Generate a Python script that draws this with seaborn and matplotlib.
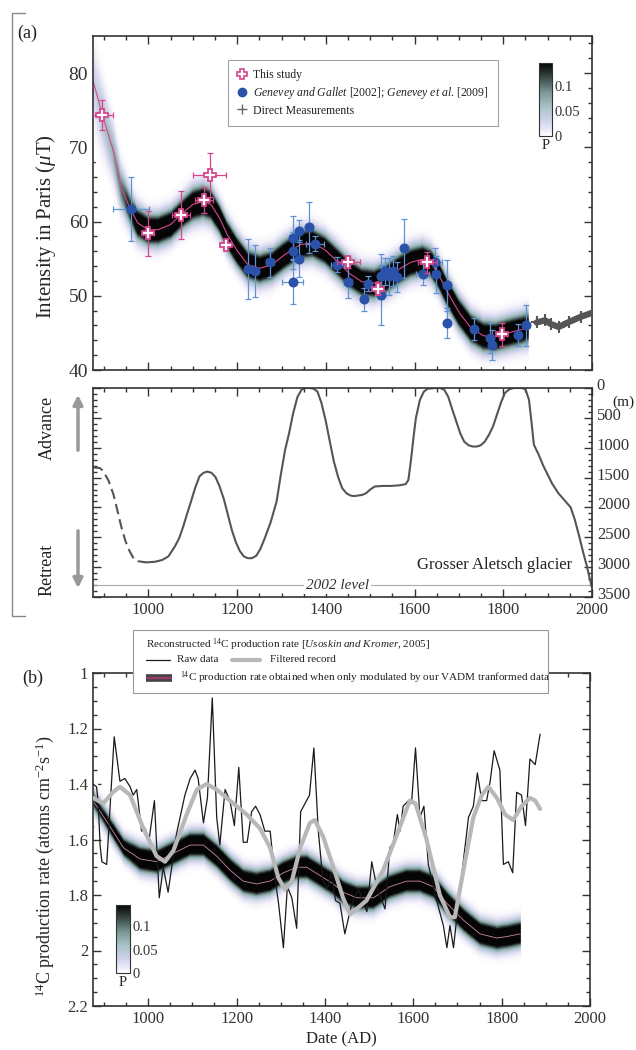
import numpy as np
import matplotlib
matplotlib.use("Agg")
import matplotlib.pyplot as plt
import matplotlib.transforms as mtransforms
import seaborn as sns
from matplotlib.colors import LinearSegmentedColormap, Normalize
from matplotlib.cm import ScalarMappable
from matplotlib.lines import Line2D
from matplotlib.patches import FancyArrowPatch, Rectangle
from matplotlib.ticker import MultipleLocator, FuncFormatter

# ---- panel (a): intensity in Paris ----
study_years = [896, 1000, 1074, 1126, 1138, 1175, 1450, 1517, 1629, 1798]
study_vals = [74.4, 58.4, 60.9, 62.9, 66.3, 56.8, 54.5, 50.9, 54.5, 44.8]
study_xerr = [24, 12, 20, 20, 37, 8, 26, 8, 22, 10]
study_yerr = [2.0, 3.0, 3.2, 1.8, 3.0, 0.5, 0.7, 0.8, 1.4, 1.5]

gen_years = [960, 1224, 1240, 1274, 1325, 1325, 1327, 1339, 1340, 1361, 1375, 1426, 1450,
             1487, 1494, 1525, 1525, 1534, 1543, 1552, 1561, 1577, 1618, 1646, 1648, 1673,
             1672, 1733, 1770, 1774, 1834, 1852]
gen_vals = [61.7, 53.6, 53.3, 54.5, 51.9, 57.8, 56.1, 55.0, 58.7, 59.2, 57.0, 54.2, 51.9,
            49.5, 51.6, 52.6, 50.1, 53.3, 52.6, 53.3, 52.5, 56.4, 52.9, 54.6, 52.9, 51.4,
            46.3, 45.5, 44.3, 43.4, 44.7, 46.0]
gen_xerr = [41, 6, 6, 10, 23, 6, 6, 6, 6, 6, 20, 15, 8, 6, 6, 6, 6, 6, 6, 6, 6, 6, 15,
            15, 8, 8, 5, 6, 6, 6, 6, 5]
gen_yerr = [4.3, 4.0, 3.5, 2.0, 3.0, 3.0, 2.5, 2.5, 1.5, 3.5, 1.0, 1.0, 2.2, 1.5, 1.0,
            3.0, 4.0, 1.8, 2.5, 2.0, 2.0, 4.0, 1.5, 1.8, 2.5, 3.4, 2.0, 1.5, 2.0, 2.0,
            1.5, 2.7]

direct_years = [1875, 1894, 1907, 1925, 1949, 1976, 2000]
direct_vals = [46.4, 46.7, 46.2, 45.8, 46.5, 47.2, 47.7]

top_years = [875, 896, 921, 939, 960, 976, 1000, 1022, 1050, 1074, 1100, 1123, 1141, 1160,
             1178, 1201, 1224, 1251, 1279, 1306, 1343, 1370, 1398, 1426, 1453, 1481, 1508,
             1536, 1563, 1591, 1618, 1637, 1655, 1673, 1701, 1728, 1756, 1783, 1811, 1838,
             1856]
top_mean = [79.0, 74.4, 69.5, 64.5, 61.6, 59.8, 58.9, 58.9, 59.6, 61.0, 62.3, 62.7, 62.3,
            60.5, 58.2, 56.0, 54.2, 53.7, 54.2, 55.5, 56.9, 57.1, 56.2, 54.6, 53.0, 51.9,
            51.7, 52.4, 53.5, 54.5, 54.9, 54.4, 52.8, 50.6, 47.7, 45.6, 44.6, 44.5, 45.0,
            45.4, 45.7]
top_sd = [3.0, 2.6, 2.2, 1.8, 1.5, 1.4, 1.3, 1.3, 1.3, 1.3, 1.4, 1.4, 1.4, 1.3, 1.3, 1.3,
          1.3, 1.3, 1.3, 1.3, 1.3, 1.3, 1.3, 1.3, 1.3, 1.3, 1.3, 1.3, 1.3, 1.3, 1.3, 1.3,
          1.3, 1.3, 1.3, 1.3, 1.3, 1.3, 1.3, 1.3, 1.4]
top_peak = [0.03, 0.05, 0.07, 0.10, 0.16, 0.22, 0.25, 0.25, 0.25, 0.25, 0.25, 0.25, 0.25,
            0.25, 0.25, 0.25, 0.25, 0.25, 0.25, 0.25, 0.25, 0.25, 0.25, 0.25, 0.25, 0.25,
            0.25, 0.25, 0.25, 0.25, 0.25, 0.25, 0.25, 0.25, 0.25, 0.25, 0.25, 0.25, 0.25,
            0.25, 0.2]

# ---- glacier (Grosser Aletsch), metres ----
glac_dash_years = [875, 890, 897, 910, 921, 930, 939, 948, 958, 967, 976, 995]
glac_dash_depth = [1330, 1340, 1380, 1550, 1780, 2050, 2330, 2560, 2740, 2860, 2900, 2920]
glac_years = [995, 1015, 1031, 1045, 1059, 1069, 1078, 1087, 1096, 1105, 1115, 1124, 1133,
              1142, 1151, 1160, 1170, 1179, 1188, 1197, 1206, 1215, 1224, 1233, 1243, 1252,
              1261, 1275, 1289, 1298, 1308, 1317, 1326, 1336, 1345, 1354, 1363, 1372, 1381,
              1390, 1400, 1409, 1418, 1428, 1437, 1446, 1455, 1464, 1473, 1482, 1491, 1500,
              1510, 1528, 1547, 1565, 1580, 1586, 1592, 1598, 1603, 1612, 1621, 1630, 1649,
              1658, 1667, 1676, 1685, 1694, 1703, 1712, 1722, 1731, 1740, 1749, 1758, 1768,
              1777, 1786, 1795, 1804, 1814, 1823, 1841, 1850, 1858, 1864, 1869, 1880, 1890,
              1900, 1910, 1924, 1938, 1952, 1961, 1970, 1980, 1989, 1995, 2000]
glac_depth = [2920, 2910, 2880, 2820, 2660, 2520, 2330, 2110, 1900, 1680, 1480, 1420, 1400,
              1420, 1490, 1640, 1860, 2120, 2380, 2580, 2730, 2820, 2850, 2850, 2810, 2700,
              2540, 2260, 1900, 1470, 1040, 760, 430, 150, 30, 0, 0, 10, 60, 250, 560, 900,
              1230, 1500, 1680, 1760, 1800, 1810, 1800, 1790, 1760, 1700, 1650, 1640, 1640,
              1630, 1610, 1540, 1200, 800, 500, 200, 60, 10, 0, 0, 30, 150, 360, 560, 760,
              900, 960, 980, 980, 960, 900, 780, 640, 440, 240, 80, 20, 0, 0, 20, 200, 600,
              950, 1120, 1300, 1450, 1600, 1760, 1880, 2000, 2200, 2450, 2750, 3000, 3200,
              3330]

# ---- panel (b): 14C production rate ----
raw_years = [875, 883, 887, 891, 895, 906, 923, 936, 947, 959, 966, 974, 985, 993, 1002,
             1014, 1025, 1034, 1045, 1064, 1083, 1095, 1106, 1113, 1125, 1134, 1145, 1155,
             1162, 1174, 1185, 1195, 1205, 1215, 1224, 1234, 1243, 1253, 1264, 1276, 1287,
             1295, 1306, 1315, 1325, 1336, 1345, 1355, 1365, 1375, 1385, 1395, 1405, 1414,
             1424, 1434, 1445, 1461, 1476, 1495, 1506, 1517, 1536, 1547, 1555, 1564, 1570,
             1577, 1589, 1596, 1605, 1615, 1624, 1634, 1653, 1668, 1676, 1683, 1691, 1702,
             1725, 1736, 1745, 1755, 1766, 1774, 1783, 1796, 1804, 1815, 1825, 1834, 1845,
             1854, 1864, 1876, 1887]
raw_vals = [1.40, 1.41, 1.47, 1.62, 1.68, 1.69, 1.23, 1.39, 1.38, 1.41, 1.44, 1.42, 1.57,
            1.56, 1.60, 1.46, 1.81, 1.70, 1.79, 1.58, 1.44, 1.38, 1.35, 1.38, 1.54, 1.45,
            1.09, 1.52, 1.62, 1.42, 1.46, 1.55, 1.34, 1.61, 1.61, 1.50, 1.48, 1.51, 1.57,
            1.57, 1.74, 1.83, 1.99, 1.77, 1.81, 1.92, 1.50, 1.47, 1.44, 1.27, 1.57, 1.74,
            1.78, 1.72, 1.82, 1.83, 1.94, 1.83, 1.78, 1.86, 1.68, 1.77, 1.85, 1.63, 1.61,
            1.51, 1.57, 1.48, 1.46, 1.47, 1.27, 1.52, 1.48, 1.69, 1.82, 1.91, 1.99, 1.91,
            1.99, 1.83, 1.52, 1.48, 1.36, 1.46, 1.46, 1.39, 1.28, 1.35, 1.69, 1.68, 1.72,
            1.43, 1.44, 1.55, 1.31, 1.33, 1.22]

filt_years = [875, 898, 920, 936, 959, 989, 1019, 1038, 1057, 1087, 1110, 1132, 1155, 1185,
              1223, 1253, 1276, 1295, 1310, 1325, 1344, 1366, 1377, 1396, 1419, 1441, 1457,
              1494, 1532, 1566, 1592, 1605, 1630, 1660, 1683, 1694, 1717, 1736, 1755, 1770,
              1789, 1808, 1826, 1845, 1864, 1876, 1887]
filt_vals = [1.45, 1.47, 1.43, 1.41, 1.44, 1.56, 1.66, 1.68, 1.64, 1.51, 1.42, 1.40, 1.42,
             1.46, 1.51, 1.56, 1.63, 1.74, 1.78, 1.75, 1.63, 1.54, 1.53, 1.59, 1.70, 1.81,
             1.87, 1.82, 1.71, 1.57, 1.46, 1.47, 1.60, 1.80, 1.88, 1.88, 1.68, 1.52, 1.44,
             1.41, 1.45, 1.51, 1.53, 1.48, 1.45, 1.46, 1.49]

vadm_years = [875, 900, 920, 944, 981, 1019, 1057, 1095, 1125, 1155, 1185, 1215, 1245, 1276,
              1306, 1336, 1359, 1389, 1419, 1441, 1472, 1510, 1547, 1585, 1615, 1645, 1676,
              1713, 1751, 1789, 1811, 1842]
vadm_mean = [1.46, 1.52, 1.57, 1.63, 1.67, 1.68, 1.65, 1.62, 1.62, 1.66, 1.71, 1.75, 1.76,
             1.75, 1.72, 1.70, 1.70, 1.73, 1.76, 1.79, 1.81, 1.81, 1.77, 1.75, 1.75, 1.77,
             1.83, 1.89, 1.94, 1.955, 1.95, 1.94]
vadm_sd = [0.025] * 4 + [0.029] * 28
vadm_peak = [0.14, 0.16, 0.18, 0.2] + [0.26] * 28

PINK = "#d6478c"
BLUE = "#2a52a8"
EBLUE = "#5f93d3"
AXC = "#333333"

p_cmap = LinearSegmentedColormap.from_list(
    "P", [(0, "#ffffff"), (0.08, "#eceaf7"), (0.22, "#cdd1ea"), (0.4, "#a9c3c6"),
          (0.6, "#7a9896"), (0.8, "#3a4a48"), (1, "#050505")])
P_MAX = 0.145

sns.set_theme(style="ticks")
plt.rcParams["font.family"] = ["Liberation Serif", "DejaVu Serif"]
plt.rcParams["mathtext.fontset"] = "custom"
plt.rcParams["mathtext.rm"] = "Liberation Serif"
plt.rcParams["mathtext.it"] = "Liberation Serif:italic"
plt.rcParams["axes.edgecolor"] = AXC
plt.rcParams["axes.linewidth"] = 1.2
plt.rcParams["xtick.color"] = AXC
plt.rcParams["ytick.color"] = AXC
plt.rcParams["text.color"] = "#222222"


def draw_band(ax, xs, mu, sd, peak):
    # probability band drawn on a mesh that follows the mean curve
    k = np.linspace(-3.3, 3.3, 41)
    xs = np.asarray(xs, float)
    X = np.tile(xs, (len(k), 1))
    Y = np.asarray(mu)[None, :] + k[:, None] * np.asarray(sd)[None, :]
    C = np.asarray(peak)[None, :] * np.exp(-0.5 * k[:, None] ** 2)
    ax.pcolormesh(X, Y, C, cmap=p_cmap, vmin=0, vmax=P_MAX, shading="gouraud",
                  zorder=1, rasterized=True)


def style_ticks(ax, xmajor, xminor, ymajor, yminor):
    ax.xaxis.set_major_locator(MultipleLocator(xmajor))
    ax.xaxis.set_minor_locator(MultipleLocator(xminor))
    ax.yaxis.set_major_locator(MultipleLocator(ymajor))
    ax.yaxis.set_minor_locator(MultipleLocator(yminor))
    ax.tick_params(which="both", direction="in", top=True, right=True, width=1.0)
    ax.tick_params(which="major", length=6)
    ax.tick_params(which="minor", length=3)


fig = plt.figure(figsize=(6.36, 10.5), dpi=100)
W, H = 636.0, 1050.0


def px_axes(x0, y0, x1, y1):
    return fig.add_axes([x0 / W, 1 - y1 / H, (x1 - x0) / W, (y1 - y0) / H])


# ================= panel (a) =================
ax1 = px_axes(93, 36, 592, 370)
draw_band(ax1, top_years, top_mean, top_sd, top_peak)
sns.lineplot(x=top_years, y=top_mean, ax=ax1, color=PINK, lw=0.8, estimator=None,
             sort=False, zorder=2)
ax1.errorbar(gen_years, gen_vals, xerr=gen_xerr, yerr=gen_yerr, fmt="none",
             ecolor=EBLUE, elinewidth=0.9, capsize=2, capthick=0.9, zorder=3)
sns.scatterplot(x=gen_years, y=gen_vals, ax=ax1, color=BLUE, s=52, edgecolor=BLUE,
                linewidth=0, zorder=4)
ax1.errorbar(study_years, study_vals, xerr=study_xerr, yerr=study_yerr, fmt="none",
             ecolor=PINK, elinewidth=0.9, capsize=2, capthick=0.9, zorder=5)
ax1.plot(study_years, study_vals, ls="none", marker="P", ms=9, mfc="white", mec=PINK,
         mew=1.3, zorder=6)
sns.lineplot(x=direct_years, y=direct_vals, ax=ax1, color="#555555", lw=4.5,
             estimator=None, zorder=3)
ax1.plot(direct_years, direct_vals, ls="none", marker="+", ms=9, mew=1.5,
         color="#555555", zorder=3)

ax1.set_xlim(875, 2000)
ax1.set_ylim(40, 85)
style_ticks(ax1, 200, 50, 10, 2)
ax1.tick_params(labelbottom=False, labelsize=14)
ax1.set_ylabel(r"Intensity in Paris ($\mu$T)", fontsize=15)
ax1.yaxis.set_label_coords(-0.07, 0.43)

handles = [
    Line2D([], [], ls="none", marker="P", ms=7, mfc="white", mec=PINK, mew=1.2),
    Line2D([], [], ls="none", marker="o", ms=6, color=BLUE),
    Line2D([], [], ls="none", marker="+", ms=7, color="#666666"),
]
labels = ["This study",
          r"$\mathit{Genevey\ and\ Gallet}$ [2002]; $\mathit{Genevey\ et\ al}$. [2009]",
          "Direct Measurements"]
leg = ax1.legend(handles, labels, loc="upper left", bbox_to_anchor=(0.27, 0.928),
                 borderaxespad=0, fontsize=8.5, frameon=True, fancybox=False,
                 handlelength=0.8, handletextpad=0.5, borderpad=0.8, labelspacing=0.3)
leg.get_frame().set_edgecolor("#888888")
leg.get_frame().set_linewidth(0.8)

cax1 = px_axes(539, 63, 552, 136)
cb1 = fig.colorbar(ScalarMappable(Normalize(0, P_MAX), p_cmap), cax=cax1,
                   ticks=[0, 0.05, 0.1])
cb1.set_ticklabels(["0", "0.05", "0.1"])
cb1.ax.tick_params(labelsize=10.5, length=3, direction="in", pad=2)
cb1.outline.set_linewidth(0.8)
cax1.set_xlabel("P", fontsize=10.5, labelpad=2)

# ================= glacier panel =================
ax2 = px_axes(93, 388, 592, 597)
sns.lineplot(x=glac_dash_years, y=glac_dash_depth, ax=ax2, color="#555555", lw=1.5,
             estimator=None, sort=False, linestyle=(0, (5, 2.5)))
sns.lineplot(x=glac_years, y=glac_depth, ax=ax2, color="#555555", lw=1.5,
             estimator=None, sort=False)
ax2.axhline(3300, color="#aaaaaa", lw=0.8, zorder=1)
ax2.text(1426, 3300, "2002 level", ha="center", va="center", fontsize=11,
         style="italic", color="#333333",
         bbox=dict(facecolor="white", edgecolor="none", pad=1.5))
ax2.text(1955, 2960, "Grosser Aletsch glacier", ha="right", va="center", fontsize=12)
ax2.set_xlim(875, 2000)
ax2.set_ylim(3500, 0)
style_ticks(ax2, 200, 50, 500, 100)
ax2.tick_params(axis="y", labelleft=False, labelright=True, labelsize=12)
ax2.tick_params(axis="x", labelsize=12)
ax2.yaxis.set_major_formatter(FuncFormatter(lambda v, p: f"{v:.0f}"))
lift = mtransforms.ScaledTranslation(0, 4 / 100, fig.dpi_scale_trans)
for lab in ax2.get_yticklabels():
    lab.set_transform(lab.get_transform() + lift)
ax2.text(1.04, 0.93, "(m)", transform=ax2.transAxes, fontsize=11, ha="left",
         va="center")

arrow_kw = dict(transform=fig.transFigure, arrowstyle="-|>", mutation_scale=14,
                color="#999999", lw=2.5)
fig.add_artist(FancyArrowPatch((78 / W, 1 - 453 / H), (78 / W, 1 - 392 / H), **arrow_kw))
fig.add_artist(FancyArrowPatch((78 / W, 1 - 528 / H), (78 / W, 1 - 591 / H), **arrow_kw))
fig.text(47 / W, 1 - 428 / H, "Advance", rotation=90, ha="center", va="center",
         fontsize=13)
fig.text(47 / W, 1 - 570 / H, "Retreat", rotation=90, ha="center", va="center",
         fontsize=13)

# bracket around (a)
fig.add_artist(Line2D([25 / W, 12 / W, 12 / W, 25 / W],
                      [1 - 13 / H, 1 - 13 / H, 1 - 616 / H, 1 - 616 / H],
                      color="#888888", lw=1.0))
fig.text(17 / W, 1 - 33 / H, "(a)", fontsize=13, ha="left", va="center")

# ================= panel (b) =================
ax3 = px_axes(93, 673, 590, 1006)
draw_band(ax3, vadm_years, vadm_mean, vadm_sd, vadm_peak)
sns.lineplot(x=vadm_years, y=vadm_mean, ax=ax3, color="#c98aa6", lw=0.6, estimator=None,
             zorder=2)
sns.lineplot(x=raw_years, y=raw_vals, ax=ax3, color="#1a1a1a", lw=0.9, estimator=None,
             zorder=3)
sns.lineplot(x=filt_years, y=filt_vals, ax=ax3, color="#b8b8b8", lw=3.0, estimator=None,
             zorder=4)
ax3.set_xlim(875, 2000)
ax3.set_ylim(2.2, 1.0)
style_ticks(ax3, 200, 50, 0.2, 0.05)
ax3.set_yticks([1.0, 1.2, 1.4, 1.6, 1.8, 2.0, 2.2])
ax3.set_yticklabels(["1", "1.2", "1.4", "1.6", "1.8", "2", "2.2"])
ax3.tick_params(labelsize=12)
ax3.set_xlabel("Date (AD)", fontsize=12, labelpad=3)
ax3.set_ylabel(r"$^{14}$C production rate (atoms cm$^{-2}$s$^{-1}$)", fontsize=13)
ax3.yaxis.set_label_coords(-0.075, 0.42)
fig.text(22 / W, 1 - 678 / H, "(b)", fontsize=13, ha="left", va="center")

cax3 = px_axes(116, 905, 130, 973)
cb3 = fig.colorbar(ScalarMappable(Normalize(0, P_MAX), p_cmap), cax=cax3,
                   ticks=[0, 0.05, 0.1])
cb3.set_ticklabels(["0", "0.05", "0.1"])
cb3.ax.tick_params(labelsize=10.5, length=3, direction="in", pad=2)
cb3.outline.set_linewidth(0.8)
cax3.set_xlabel("P", fontsize=10.5, labelpad=2)

# legend box for panel (b), placed above the axes
fig.add_artist(Rectangle((133 / W, 1 - 693 / H), 415 / W, 63 / H, transform=fig.transFigure,
                         facecolor="white", edgecolor="#999999", lw=0.8, zorder=5))
fs = 8
fig.text(146 / W, 1 - 645 / H,
         r"Reconstructed $^{14}$C production rate [$\mathit{Usoskin\ and\ Kromer}$, 2005]",
         fontsize=fs, va="center", zorder=6)
fig.add_artist(Line2D([146 / W, 170 / W], [1 - 660 / H] * 2, color="#1a1a1a", lw=0.9,
                      zorder=6))
fig.text(177 / W, 1 - 660 / H, "Raw data", fontsize=fs, va="center", zorder=6)
fig.add_artist(Line2D([232 / W, 260 / W], [1 - 660 / H] * 2, color="#b8b8b8", lw=3,
                      zorder=6))
fig.text(270 / W, 1 - 660 / H, "Filtered record", fontsize=fs, va="center", zorder=6)
fig.add_artist(Line2D([146 / W, 172 / W], [1 - 678 / H] * 2, color="#444444", lw=5.5,
                      zorder=6, solid_capstyle="butt"))
fig.add_artist(Line2D([146 / W, 172 / W], [1 - 678 / H] * 2, color="#9b3a6a", lw=1.6,
                      zorder=7, solid_capstyle="butt"))
fig.text(180 / W, 1 - 678 / H,
         r"$^{14}$C production rate obtained when only modulated by our VADM tranformed data",
         fontsize=fs, va="center", zorder=6)

fig.savefig("out.png", dpi=100)
